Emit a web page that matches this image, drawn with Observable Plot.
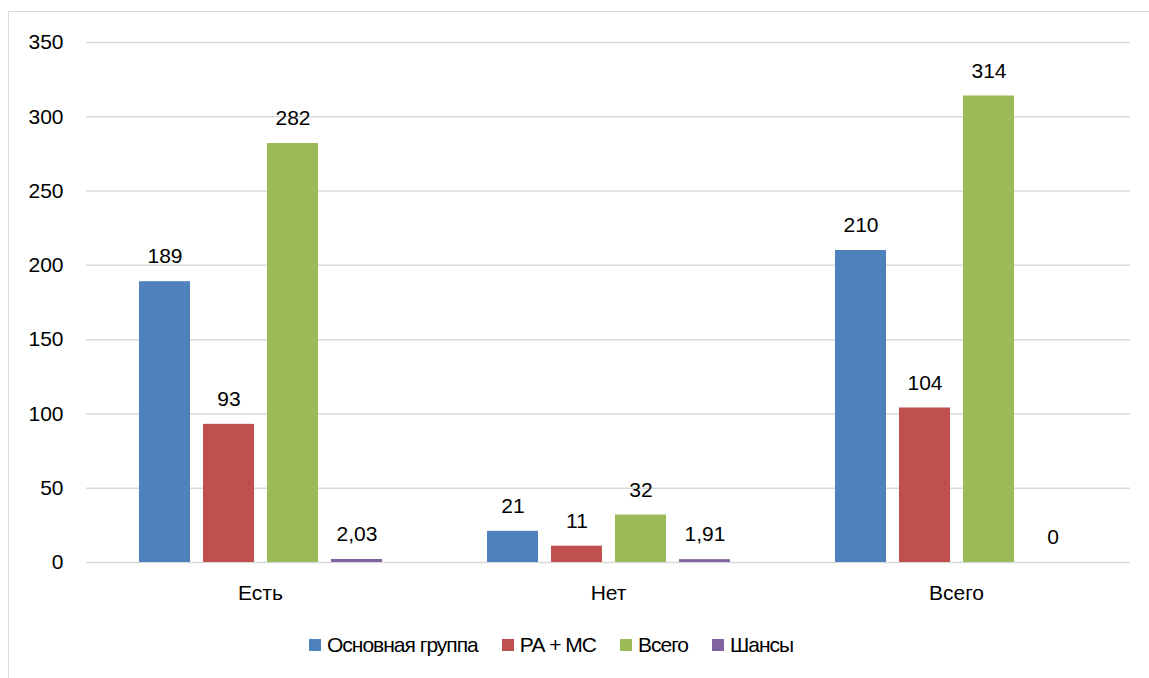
<!DOCTYPE html>
<html>
<head>
<meta charset="utf-8">
<script src="https://cdn.jsdelivr.net/npm/d3@7"></script>
<script src="https://cdn.jsdelivr.net/npm/@observablehq/plot@0.6"></script>
<style>
  html, body { margin: 0; padding: 0; background: #fff; }
  body { width: 1149px; height: 678px; overflow: hidden; position: relative; font-family: "Liberation Sans", sans-serif; }
  #frame { position: absolute; left: 8px; top: 11px; width: 1150px; height: 700px; border: 1.5px solid #d9d9d9; box-sizing: border-box; }
  #chart { position: absolute; left: 0; top: 0; }
  #legend { position: absolute; top: 633px; left: 309px; display: flex; gap: 24px; font-size: 21px; letter-spacing: -1px; color: #000; white-space: nowrap; }
  #legend .item { display: flex; align-items: center; gap: 6px; }
  #legend .sw { width: 12px; height: 12px; display: inline-block; }
</style>
</head>
<body>
<div id="frame"></div>
<div id="chart"></div>
<div id="legend"></div>
<script>
const categories = ["Есть", "Нет", "Всего"];
const seriesNames = ["Основная группа", "РА + МС", "Всего", "Шансы"];
const seriesColors = ["#4f81bd", "#c0504d", "#9bbb59", "#8064a2"];
const valuesMain = [189, 21, 210];
const valuesRAMS = [93, 11, 104];
const valuesTotal = [282, 32, 314];
const valuesOdds = [2.03, 1.91, 0];
const yTicks = [0, 50, 100, 150, 200, 250, 300, 350];

const seriesValues = [valuesMain, valuesRAMS, valuesTotal, valuesOdds];
const data = [];
categories.forEach((c, i) => {
  seriesNames.forEach((s, j) => {
    data.push({cat: c, series: s, value: seriesValues[j][i]});
  });
});
const fmt = v => String(v).replace(".", ",");

const plot = Plot.plot({
  width: 1149,
  height: 620,
  marginLeft: 85,
  marginRight: 18,
  marginTop: 42,
  marginBottom: 58,
  style: {fontFamily: "Liberation Sans, sans-serif", fontSize: "21px", color: "#000", background: "transparent"},
  fx: {domain: categories, padding: 0, label: null, tickSize: 0, tickPadding: 23},
  x: {domain: seriesNames, paddingInner: 0.21, paddingOuter: 0.8, axis: null},
  y: {domain: [0, 350], ticks: yTicks, label: null, tickSize: 0, tickPadding: 23},
  color: {domain: seriesNames, range: seriesColors},
  marks: [
    Plot.ruleY(yTicks, {stroke: "#d9d9d9", strokeWidth: 1.5}),
    Plot.barY(data, {fx: "cat", x: "series", y: "value", fill: "series"}),
    Plot.text(data, {fx: "cat", x: "series", y: "value", text: d => fmt(d.value), dy: -25, fill: "#000", fontSize: 21})
  ]
});
document.getElementById("chart").appendChild(plot);

const legend = document.getElementById("legend");
seriesNames.forEach((s, j) => {
  const item = document.createElement("div");
  item.className = "item";
  const sw = document.createElement("span");
  sw.className = "sw";
  sw.style.background = seriesColors[j];
  const t = document.createElement("span");
  t.textContent = s;
  item.appendChild(sw);
  item.appendChild(t);
  legend.appendChild(item);
});
</script>
</body>
</html>
